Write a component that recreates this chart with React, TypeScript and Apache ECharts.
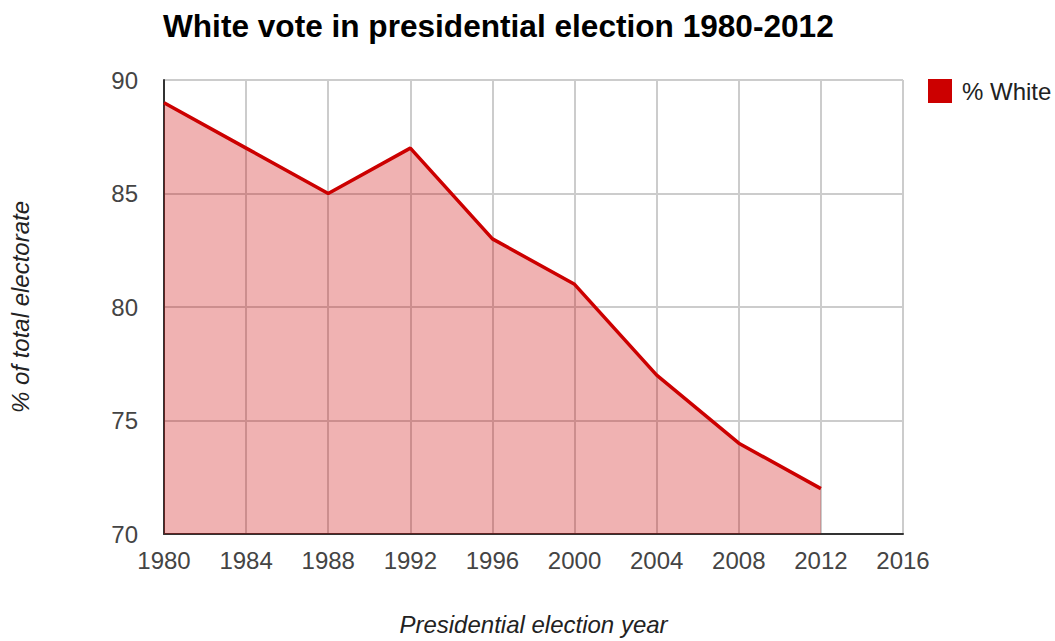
import React, { useEffect, useRef } from "react";
import * as echarts from "echarts";

const years = [1980, 1984, 1988, 1992, 1996, 2000, 2004, 2008, 2012];
const whiteShare = [89, 87, 85, 87, 83, 81, 77, 74, 72];
const xTicks = { min: 1980, max: 2016, interval: 4 };
const yTicks = { min: 70, max: 90, interval: 5 };

const FONT = "'Liberation Sans', Arial, sans-serif";

export default function App() {
  const ref = useRef<HTMLDivElement>(null);

  useEffect(() => {
    if (!ref.current) return;
    const chart = echarts.init(ref.current, undefined, { renderer: "svg" });
    const points = years.map((y, i) => [y, whiteShare[i]]);
    chart.setOption({
      animation: false,
      backgroundColor: "#ffffff",
      textStyle: { fontFamily: FONT },
      title: {
        text: "White vote in presidential election 1980-2012",
        left: 158,
        top: 5,
        textStyle: { fontFamily: FONT, fontSize: 31.6, fontWeight: "bold", color: "#000" },
      },
      legend: {
        left: 928,
        top: 79,
        padding: 0,
        icon: "rect",
        itemWidth: 24,
        itemHeight: 24,
        textStyle: { fontFamily: FONT, fontSize: 24, color: "#222", padding: [0, 0, 0, 5] },
        data: ["% White"],
      },
      grid: { left: 164, width: 739, top: 80, height: 455, containLabel: false },
      xAxis: {
        type: "value",
        min: xTicks.min,
        max: xTicks.max,
        interval: xTicks.interval,
        name: "Presidential election year",
        nameLocation: "middle",
        nameGap: 78,
        nameTextStyle: { fontFamily: FONT, fontSize: 24, fontStyle: "italic", color: "#222" },
        axisLine: { show: true, lineStyle: { color: "#333", width: 2 } },
        axisTick: { show: false },
        axisLabel: { fontFamily: FONT, fontSize: 24, color: "#444", margin: 14, formatter: (v: number) => String(v) },
        splitLine: { show: true, lineStyle: { color: "#cccccc", width: 2 } },
      },
      yAxis: {
        type: "value",
        min: yTicks.min,
        max: yTicks.max,
        interval: yTicks.interval,
        name: "% of total electorate",
        nameLocation: "middle",
        nameGap: 132,
        nameTextStyle: { fontFamily: FONT, fontSize: 24, fontStyle: "italic", color: "#222" },
        axisLine: { show: true, lineStyle: { color: "#333", width: 2 } },
        axisTick: { show: false },
        axisLabel: { fontFamily: FONT, fontSize: 24, color: "#444", margin: 26 },
        splitLine: { show: true, lineStyle: { color: "#cccccc", width: 2 } },
      },
      series: [
        {
          name: "% White",
          type: "line",
          data: points,
          symbol: "none",
          color: "#cc0000",
          lineStyle: { color: "#cc0000", width: 3.5 },
          areaStyle: { color: "#cc0000", opacity: 0.3 },
          z: 3,
        },
      ],
    });
    return () => chart.dispose();
  }, []);

  return (
    <div
      ref={ref}
      style={{ position: "absolute", left: 0, top: 0, width: 1055, height: 641 }}
    />
  );
}
